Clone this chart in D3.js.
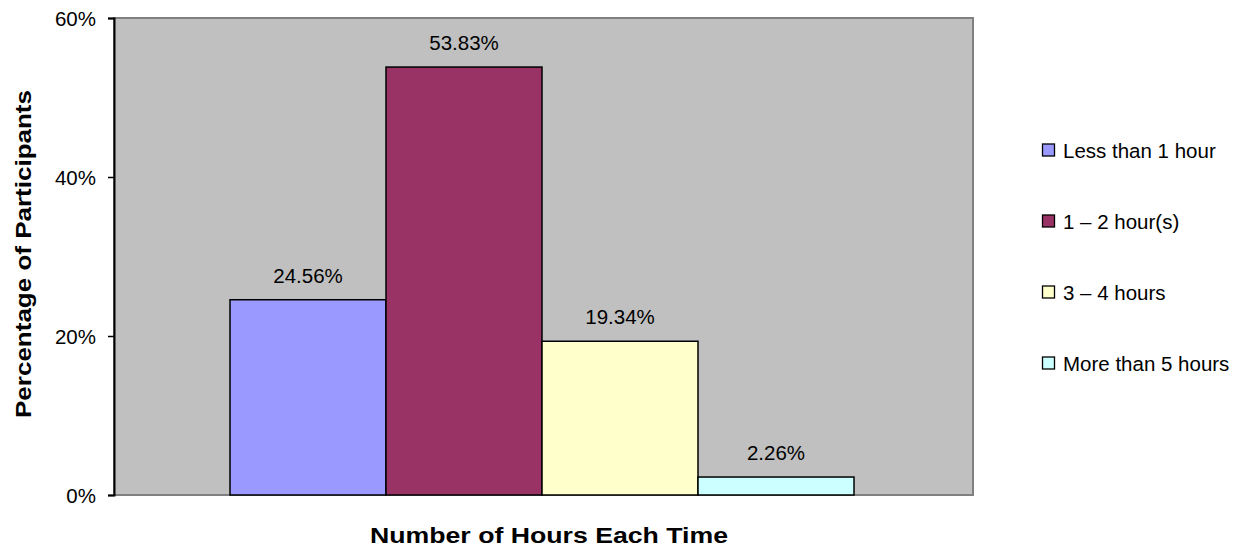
<!DOCTYPE html>
<html>
<head>
<meta charset="utf-8">
<script src="https://cdn.jsdelivr.net/npm/d3@7"></script>
<style>
  body { margin: 0; background: #fff; }
  text { font-family: Arial, 'Liberation Sans', sans-serif; fill: #000; }
</style>
</head>
<body>
<div id="area"></div>
<script>
const series = ['Less than 1 hour', '1 \u2013 2 hour(s)', '3 \u2013 4 hours', 'More than 5 hours']
const values = [24.56, 53.83, 19.34, 2.26]
const colors = ['#9999FF', '#993366', '#FFFFCC', '#CCFFFF']
const yTicks = [0, 20, 40, 60]

const svg = d3.select('#area')
            .append('svg')
            .attr('width', 1250)
            .attr('height', 550)

const plotL = 114, plotR = 973, plotT = 18, plotB = 495

const yScale = d3.scaleLinear()
              .domain([0, 60])
              .range([plotB, plotT])

// one category, four series bars side by side
const xScale = d3.scaleBand()
              .domain(series)
              .range([230, 854])

// plot area
svg.append('rect')
    .attr('x', plotL)
    .attr('y', plotT)
    .attr('width', plotR - plotL)
    .attr('height', plotB - plotT)
    .attr('fill', '#C0C0C0')
    .attr('stroke', '#808080')
    .attr('stroke-width', 2)

svg.selectAll('rect.bar')
    .data(values)
    .enter()
    .append('rect')
    .attr('class', 'bar')
    .attr('x', (d, i) => xScale(series[i]))
    .attr('y', d => yScale(d))
    .attr('width', xScale.bandwidth())
    .attr('height', d => plotB - yScale(d))
    .attr('fill', (d, i) => colors[i])
    .attr('stroke', '#000')
    .attr('stroke-width', 1.5)

svg.selectAll('text.val')
    .data(values)
    .enter()
    .append('text')
    .attr('class', 'val')
    .attr('x', (d, i) => xScale(series[i]) + xScale.bandwidth() / 2)
    .attr('y', d => yScale(d) - 17)
    .attr('text-anchor', 'middle')
    .style('font-size', '20.5px')
    .text(d => d.toFixed(2) + '%')

// y axis
const yAxis = d3.axisLeft(yScale)
              .tickValues(yTicks)
              .tickFormat(d => d + '%')
              .tickSize(6)
              .tickPadding(12)

const ya = svg.append('g')
    .attr('transform', `translate(${plotL},0)`)
    .call(yAxis)
ya.select('.domain').attr('stroke', '#000').attr('stroke-width', 2)
ya.selectAll('.tick line').attr('stroke', '#000').attr('stroke-width', 1.5)
ya.selectAll('.tick text')
    .style('font-size', '20.5px')
    .style('font-family', "Arial, 'Liberation Sans', sans-serif")
    .attr('fill', '#000')
    .attr('dy', '0.36em')

// axis titles (bold text in the reference is drawn wide)
svg.append('text')
    .attr('x', 549)
    .attr('y', 543)
    .attr('text-anchor', 'middle')
    .attr('textLength', 358)
    .attr('lengthAdjust', 'spacingAndGlyphs')
    .style('font-size', '21.5px')
    .style('font-weight', 'bold')
    .text('Number of Hours Each Time')

svg.append('text')
    .attr('transform', 'translate(31,254) rotate(-90)')
    .attr('text-anchor', 'middle')
    .attr('textLength', 328)
    .attr('lengthAdjust', 'spacingAndGlyphs')
    .style('font-size', '21.5px')
    .style('font-weight', 'bold')
    .text('Percentage of Participants')

// legend
const legend = svg.selectAll('g.leg')
    .data(series)
    .enter()
    .append('g')
    .attr('class', 'leg')
    .attr('transform', (d, i) => `translate(1042,${150 + i * 71})`)

legend.append('rect')
    .attr('x', 0.5)
    .attr('y', -6)
    .attr('width', 12)
    .attr('height', 12)
    .attr('fill', (d, i) => colors[i])
    .attr('stroke', '#000')
    .attr('stroke-width', 1.3)

legend.append('text')
    .attr('x', 21)
    .attr('y', 7.5)
    .style('font-size', '20.5px')
    .text(d => d)
</script>
</body>
</html>
